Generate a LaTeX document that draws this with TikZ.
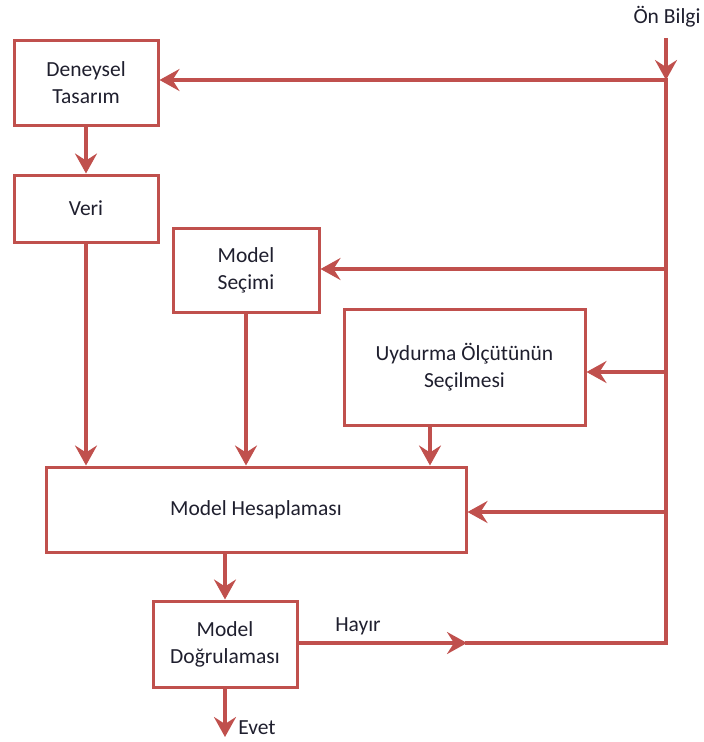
\documentclass[tikz,border=0pt]{standalone}
\usepackage{fontspec}
\setmainfont{Carlito}
\usetikzlibrary{arrows.meta}
\definecolor{linered}{HTML}{C0504D}
\definecolor{textnavy}{HTML}{1F1F2E}
\tikzset{
  box/.style={draw=linered, line width=3pt, fill=white, inner sep=0pt,
    align=center, text=textnavy, font=\fontsize{21.5}{27}\selectfont},
  flow/.style={draw=linered, line width=4pt,
    -{Stealth[length=20pt, width=22pt, inset=7pt]}},
  wire/.style={draw=linered, line width=4pt},
  lbl/.style={text=textnavy, font=\fontsize{21.5}{27}\selectfont, inner sep=0pt}
}
\begin{document}
\begin{tikzpicture}[x=1pt, y=-1pt]
\useasboundingbox (0,0) rectangle (704,742);

% boxes
\node[box, minimum width=144pt, minimum height=85pt] (deney) at (86,82.5) {Deneysel\\Tasarım};
\node[box, minimum width=144pt, minimum height=67pt] (veri) at (86,208.5) {Veri};
\node[box, minimum width=146pt, minimum height=84pt] (secim) at (246,270) {Model\\Seçimi};
\node[box, minimum width=241pt, minimum height=116pt] (uyd) at (464.5,367) {Uydurma Ölçütünün\\Seçilmesi};
\node[box, minimum width=420pt, minimum height=85pt] (hesap) at (256,509.5) {Model Hesaplaması};
\node[box, minimum width=144pt, minimum height=86pt] (dogru) at (225,644) {Model\\Doğrulaması};

% labels
\node[lbl] (onbilgi) at (667,17) {Ön Bilgi};
\node[lbl] (hayir) at (358,626) {Hayır};
\node[lbl] (evet) at (257,728) {Evet};

% right-hand trunk
\coordinate (top) at (666,38);
\coordinate (t1) at (666,80);
\coordinate (t2) at (666,269);
\coordinate (t3) at (666,372);
\coordinate (t4) at (666,512);
\coordinate (t5) at (666,643);
\coordinate (mid) at (467,643);
\coordinate (evetend) at (225,737);

\draw[wire, line cap=rect] (t5) -- (t1);
\draw[flow] (top) -- (t1);
\draw[flow] (t1) -- (t1 -| deney.east);
\draw[flow] (t2) -- (t2 -| secim.east);
\draw[flow] (t3) -- (t3 -| uyd.east);
\draw[flow] (t4) -- (t4 -| hesap.east);

% feedback from validation
\draw[flow] (dogru.east |- t5) -- (mid);
\draw[wire, line cap=rect] (mid) -- (t5);

% main downward flow
\draw[flow] (deney) -- (veri);
\draw[flow] (veri) -- (veri |- hesap.north);
\draw[flow] (secim) -- (secim |- hesap.north);
\draw[flow] (uyd.south -| 430,0) -- (430,0 |- hesap.north);
\draw[flow] (dogru |- hesap.south) -- (dogru);
\draw[flow] (dogru) -- (evetend);
\end{tikzpicture}
\end{document}
